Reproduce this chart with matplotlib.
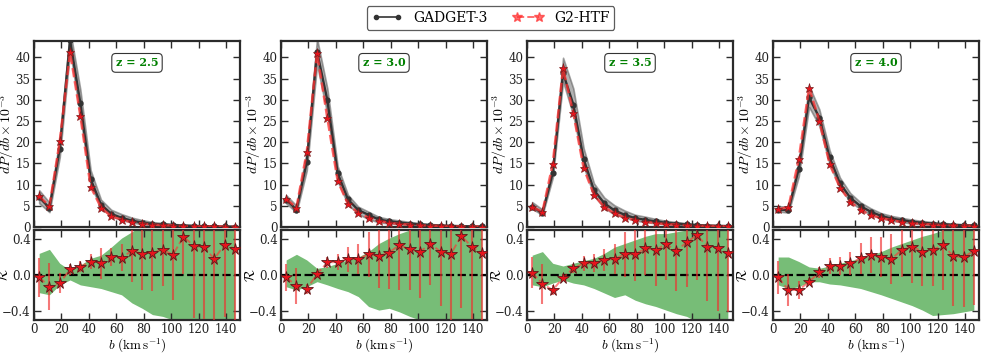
import numpy as np
import matplotlib
matplotlib.use("Agg")
import matplotlib.pyplot as plt
from matplotlib.lines import Line2D

plt.rcParams["font.family"] = "serif"
plt.rcParams["font.serif"] = ["DejaVu Serif"]
plt.rcParams["mathtext.fontset"] = "cm"

# bin centres in km/s
b = [3.75, 11.25, 18.75, 26.25, 33.75, 41.25, 48.75, 56.25, 63.75, 71.25,
     78.75, 86.25, 93.75, 101.25, 108.75, 116.25, 123.75, 131.25, 138.75, 146.25]

z_labels = ["z = 2.5", "z = 3.0", "z = 3.5", "z = 4.0"]

# dP/db x 1e-3
gadget_25 = [7.0, 4.5, 18.5, 44.1, 29.2, 11.3, 5.3, 3.1, 2.16, 1.5,
             1.05, 0.73, 0.6, 0.45, 0.35, 0.27, 0.2, 0.15, 0.12, 0.1]
htf_25 = [7.2, 5.0, 20.2, 41.3, 26.2, 9.5, 4.6, 2.5, 1.75, 1.1,
          0.8, 0.55, 0.43, 0.35, 0.2, 0.18, 0.14, 0.12, 0.08, 0.07]
gadget_30 = [6.45, 4.1, 15.3, 41.4, 29.9, 12.7, 6.5, 4.0, 2.86, 1.77,
             1.33, 1.05, 0.8, 0.6, 0.45, 0.35, 0.27, 0.2, 0.15, 0.12]
htf_30 = [6.6, 4.6, 17.7, 41.0, 25.7, 10.9, 5.4, 3.3, 2.2, 1.4,
          1.0, 0.7, 0.57, 0.44, 0.3, 0.26, 0.2, 0.11, 0.1, 0.09]
gadget_35 = [4.83, 3.27, 12.8, 36.3, 28.9, 16.0, 8.7, 5.6, 3.9, 2.86,
             2.08, 1.7, 1.3, 1.0, 0.8, 0.6, 0.45, 0.35, 0.28, 0.22]
htf_35 = [4.7, 3.6, 14.9, 37.4, 26.8, 13.9, 7.6, 4.7, 3.2, 2.2,
          1.6, 1.2, 0.94, 0.66, 0.58, 0.38, 0.25, 0.24, 0.2, 0.17]
gadget_40 = [4.1, 4.0, 13.7, 30.6, 25.8, 16.4, 10.3, 6.9, 4.9, 3.6,
             2.6, 2.0, 1.6, 1.25, 1.0, 0.8, 0.65, 0.5, 0.42, 0.36]
htf_40 = [4.2, 4.67, 16.0, 32.9, 25.0, 14.8, 9.3, 6.0, 4.0, 2.8,
          2.08, 1.64, 1.15, 0.86, 0.74, 0.58, 0.43, 0.4, 0.34, 0.26]

# ratio R and its error bars
ratio_25 = [-0.026, -0.13, -0.09, 0.063, 0.093, 0.15, 0.13, 0.196, 0.19, 0.27,
            0.237, 0.25, 0.28, 0.226, 0.426, 0.326, 0.307, 0.18, 0.337, 0.29]
rerr_25 = [0.22, 0.26, 0.11, 0.06, 0.06, 0.08, 0.17, 0.1, 0.15, 0.35,
           0.4, 0.43, 0.4, 0.5, 0.42, 0.8, 0.8, 0.8, 0.8, 0.8]
ratio_30 = [-0.026, -0.12, -0.155, 0.01, 0.14, 0.145, 0.175, 0.18, 0.23, 0.21,
            0.25, 0.333, 0.285, 0.26, 0.344, 0.26, 0.233, 0.437, 0.315, 0.248]
rerr_30 = [0.15, 0.2, 0.06, 0.04, 0.06, 0.09, 0.14, 0.17, 0.25, 0.35,
           0.4, 0.5, 0.45, 0.52, 0.45, 0.6, 0.8, 0.8, 0.8, 0.8]
ratio_35 = [0.026, -0.1, -0.167, -0.03, 0.074, 0.13, 0.13, 0.167, 0.178, 0.23,
            0.23, 0.296, 0.278, 0.344, 0.27, 0.363, 0.444, 0.315, 0.296, 0.24]
rerr_35 = [0.17, 0.22, 0.06, 0.04, 0.05, 0.08, 0.1, 0.12, 0.17, 0.25,
           0.3, 0.3, 0.4, 0.4, 0.45, 0.5, 0.5, 0.6, 0.7, 0.65]
ratio_40 = [-0.026, -0.167, -0.167, -0.074, 0.03, 0.1, 0.1, 0.13, 0.185, 0.22,
            0.2, 0.18, 0.278, 0.315, 0.26, 0.278, 0.333, 0.21, 0.196, 0.27]
rerr_40 = [0.18, 0.18, 0.1, 0.04, 0.06, 0.09, 0.1, 0.13, 0.17, 0.2,
           0.22, 0.28, 0.3, 0.4, 0.38, 0.4, 0.5, 0.55, 0.55, 0.6]

# green band (relative scatter of GADGET-3)
band_hi_25 = [0.24, 0.285, 0.13, 0.055, 0.11, 0.185, 0.22, 0.31, 0.41, 0.48,
              0.55, 0.6, 0.6, 0.6, 0.6, 0.6, 0.6, 0.6, 0.6, 0.6]
band_lo_25 = [-0.196, -0.22, -0.11, -0.055, -0.11, -0.13, -0.15, -0.185, -0.22, -0.31,
              -0.37, -0.44, -0.46, -0.5, -0.55, -0.6, -0.6, -0.6, -0.6, -0.6]
band_hi_30 = [0.167, 0.23, 0.167, 0.074, 0.093, 0.13, 0.17, 0.2, 0.26, 0.35,
              0.41, 0.46, 0.5, 0.55, 0.55, 0.6, 0.6, 0.6, 0.6, 0.6]
band_lo_30 = [-0.13, -0.167, -0.13, -0.074, -0.11, -0.15, -0.185, -0.24, -0.35, -0.39,
              -0.37, -0.41, -0.46, -0.5, -0.55, -0.6, -0.6, -0.6, -0.6, -0.6]
band_hi_35 = [0.22, 0.26, 0.13, 0.1, 0.13, 0.16, 0.185, 0.24, 0.31, 0.35,
              0.39, 0.43, 0.46, 0.46, 0.48, 0.5, 0.52, 0.52, 0.52, 0.52]
band_lo_35 = [-0.11, -0.13, -0.09, -0.055, -0.09, -0.11, -0.15, -0.2, -0.25, -0.22,
              -0.28, -0.32, -0.35, -0.39, -0.43, -0.46, -0.52, -0.52, -0.52, -0.52]
band_hi_40 = [0.2, 0.2, 0.15, 0.09, 0.075, 0.1, 0.13, 0.16, 0.185, 0.22,
              0.26, 0.31, 0.35, 0.39, 0.43, 0.46, 0.5, 0.55, 0.55, 0.55]
band_lo_40 = [-0.11, -0.15, -0.13, -0.075, -0.075, -0.1, -0.11, -0.13, -0.15, -0.185,
              -0.22, -0.26, -0.3, -0.34, -0.39, -0.45, -0.44, -0.43, -0.41, -0.39]

gadget = [gadget_25, gadget_30, gadget_35, gadget_40]
htf = [htf_25, htf_30, htf_35, htf_40]
ratio = [ratio_25, ratio_30, ratio_35, ratio_40]
rerr = [rerr_25, rerr_30, rerr_35, rerr_40]
band_hi = [band_hi_25, band_hi_30, band_hi_35, band_hi_40]
band_lo = [band_lo_25, band_lo_30, band_lo_35, band_lo_40]

W, H = 981, 353
fig = plt.figure(figsize=(W / 100, H / 100), dpi=100)

lefts = [34, 281, 527, 773]
pw = 206


def style_axes(ax):
    for s in ax.spines.values():
        s.set_linewidth(1.6)
        s.set_color("#2b2b2b")
    ax.tick_params(direction="in", top=True, right=True, length=5, width=1.0,
                   labelsize=8.5, pad=2.5, colors="#2b2b2b", labelcolor="#222222")


for i in range(4):
    bb = np.array(b)
    g = np.array(gadget[i])
    ax = fig.add_axes([lefts[i] / W, (H - 227) / H, pw / W, 186.5 / H])
    ax.fill_between(bb, g * (1 + np.array(band_lo[i])), g * (1 + np.array(band_hi[i])),
                    facecolor="0.45", edgecolor="0.35", alpha=0.55, lw=1.2, zorder=1)
    ax.plot(bb, g, "-", color="#333333", lw=1.7, marker="o", ms=3.5, zorder=2)
    ax.plot(bb, htf[i], "--", color="#ff3030", lw=1.8, alpha=0.75, zorder=3)
    ax.plot(bb, htf[i], "*", ms=6.5, mfc="#e8141c", mec="#7a2020", mew=0.5, zorder=4)
    ax.set_xlim(0, 150)
    ax.set_ylim(0, 44)
    ax.set_xticks(range(0, 141, 20))
    ax.set_yticks(range(0, 41, 5))
    ax.set_xticklabels([])
    style_axes(ax)
    ax.set_ylabel(r"$dP/db \times 10^{-3}$", fontsize=10)
    ax.yaxis.set_label_coords(-0.088, 0.5)
    ax.text(0.5, 0.88, z_labels[i], transform=ax.transAxes, ha="center", va="center",
            color="green", fontsize=8, fontweight="bold",
            bbox=dict(boxstyle="round,pad=0.35", fc="white", ec="#333333", lw=0.8))

    axr = fig.add_axes([lefts[i] / W, 33 / H, pw / W, 90 / H])
    axr.fill_between(bb, band_lo[i], band_hi[i], color="#2e9a2e", alpha=0.65,
                     lw=0, zorder=1)
    axr.axhline(0, color="black", ls="--", lw=1.6, zorder=2)
    axr.errorbar(bb, ratio[i], yerr=rerr[i], fmt="none", ecolor="#f03030",
                 elinewidth=1.5, alpha=0.65, capsize=0, zorder=3)
    axr.plot(bb, ratio[i], "--", color="#ff3030", lw=1.4, alpha=0.6, zorder=4)
    axr.plot(bb, ratio[i], "*", ms=8.5, mfc="#e8141c", mec="#5a1a1a", mew=0.6, zorder=5)
    axr.set_xlim(0, 150)
    axr.set_ylim(-0.5, 0.5)
    axr.set_xticks(range(0, 141, 20))
    axr.set_yticks([-0.4, 0.0, 0.4])
    axr.set_yticklabels(["\u22120.4", "0.0", "0.4"])
    style_axes(axr)
    axr.set_ylabel(r"$\mathcal{R}$", fontsize=10)
    axr.yaxis.set_label_coords(-0.112, 0.5)
    axr.set_xlabel(r"$b\ (\mathrm{km\,s^{-1}})$", fontsize=9.5, labelpad=0.5)

handles = [
    Line2D([], [], color="#333333", lw=1.2, marker="o", ms=3),
    Line2D([], [], color="#ff3030", lw=1.4, ls="--", marker="*", ms=7,
           mfc="#ff3030", mec="#ff3030", alpha=0.7),
]
leg = fig.legend(handles, ["GADGET-3", "G2-HTF"], loc="center",
                 bbox_to_anchor=(0.5, 1 - 18 / H), ncol=2, numpoints=2,
                 fontsize=10, frameon=True, fancybox=True, handlelength=2.2,
                 columnspacing=1.8, borderpad=0.35)
leg.get_frame().set_edgecolor("#333333")
leg.get_frame().set_linewidth(0.9)

fig.savefig("out.png", dpi=100)
